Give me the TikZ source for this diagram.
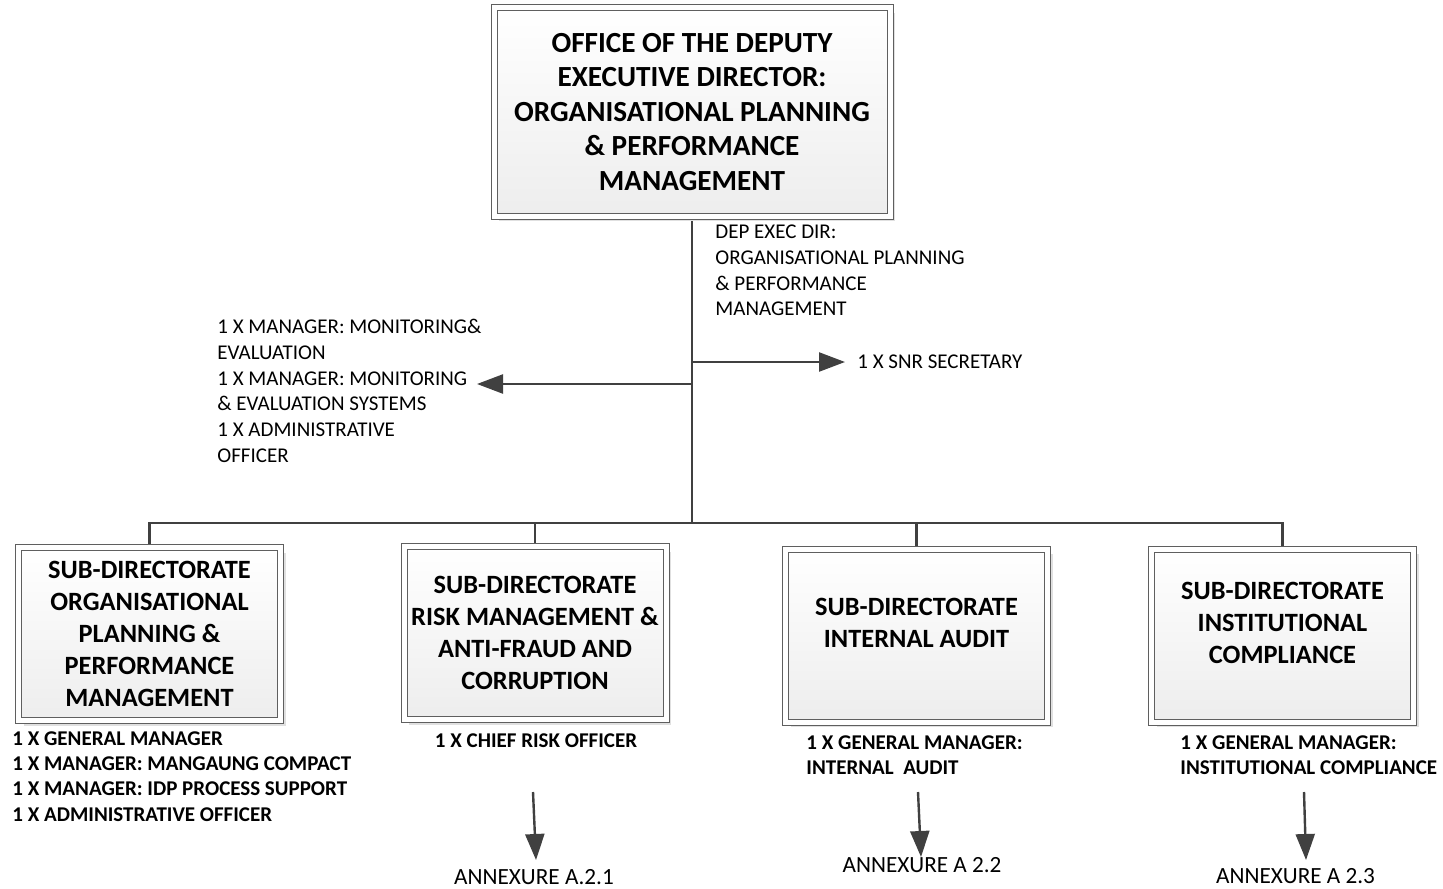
\documentclass[tikz,border=0pt]{standalone}
\usepackage{fontspec}
\setmainfont{Carlito}
\usetikzlibrary{arrows.meta,shadows,backgrounds}

\definecolor{connline}{RGB}{64,64,64}
\definecolor{boxline}{RGB}{95,95,95}

\tikzset{
  orgbox/.style={rectangle, draw=boxline, line width=0.5pt, double=white, double distance=2.5pt,
    top color=white, bottom color=black!7,
    drop shadow={shadow xshift=2.5pt, shadow yshift=-2.5pt, fill=black!12, opacity=1},
    align=center, inner sep=0pt, minimum width=131pt, minimum height=86.5pt,
    font=\fontsize{13.2}{16}\selectfont\bfseries},
  staff/.style={align=left, inner sep=0pt, font=\fontsize{10.5}{12.85}\selectfont},
  bstaff/.style={staff, font=\fontsize{10.5}{12.6}\selectfont\bfseries},
  conn/.style={draw=connline, line width=1.2pt},
  arrowconn/.style={conn, -{Triangle[length=13pt,width=9.5pt]}},
  annex/.style={inner sep=0pt, font=\fontsize{11.6}{14}\selectfont}
}

\begin{document}
\begin{tikzpicture}[x=0.5pt, y=-0.5pt]
\useasboundingbox (0,0) rectangle (1443,888);

% deputy executive director
\node[orgbox, minimum width=198pt, minimum height=104pt, font=\fontsize{14.6}{17.25}\selectfont\bfseries] (deo) at (692,112)
  {OFFICE OF THE DEPUTY\\EXECUTIVE DIRECTOR:\\ORGANISATIONAL PLANNING\\\& PERFORMANCE\\MANAGEMENT};

% sub-directorates
\node[orgbox] (opm) at (149.5,634) {SUB-DIRECTORATE\\ORGANISATIONAL\\PLANNING \&\\PERFORMANCE\\MANAGEMENT};
\node[orgbox] (rmaf) at (535,633) {SUB-DIRECTORATE\\RISK MANAGEMENT \&\\ANTI-FRAUD AND\\CORRUPTION};
\node[orgbox] (ia) at (916.5,635.5) {SUB-DIRECTORATE\\INTERNAL AUDIT\\[-3pt]~};
\node[orgbox] (ic) at (1282.5,635.5) {SUB-DIRECTORATE\\INSTITUTIONAL\\COMPLIANCE\\[-3pt]~};

% staff
\node[staff, anchor=west] (deostaff) at (715,270.5) {DEP EXEC DIR:\\ORGANISATIONAL PLANNING\\\& PERFORMANCE\\MANAGEMENT};
\node[staff, anchor=west] (mestaff) at (217,391) {1 X MANAGER: MONITORING\&\\EVALUATION\\1 X MANAGER: MONITORING\\\& EVALUATION SYSTEMS\\1 X ADMINISTRATIVE\\OFFICER};
\node[staff, anchor=west] (secstaff) at (857,362) {1 X SNR SECRETARY};
\node[bstaff, anchor=west] (opmstaff) at (12,776.5) {1 X GENERAL MANAGER\\1 X MANAGER: MANGAUNG COMPACT\\1 X MANAGER: IDP PROCESS SUPPORT\\1 X ADMINISTRATIVE OFFICER};
\node[bstaff] (rmafstaff) at (536,741) {1 X CHIEF RISK OFFICER};
\node[bstaff, anchor=west] (iastaff) at (806,755.5) {1 X GENERAL MANAGER:\\INTERNAL\ \ AUDIT};
\node[bstaff, anchor=west] (icstaff) at (1180,755.5) {1 X GENERAL MANAGER:\\INSTITUTIONAL COMPLIANCE};

% annexures
\node[annex] (annexa) at (534,877) {ANNEXURE A.2.1};
\node[annex] (annexb) at (922,865) {ANNEXURE A 2.2};
\node[annex] (annexc) at (1295.5,876) {ANNEXURE A 2.3};

\coordinate (bus) at (692,523);
\coordinate (secjoin) at (692,362);
\coordinate (mejoin) at (692,384);
\coordinate (melink) at (477,384);
\coordinate (rafrom) at (533,792);
\coordinate (rato) at (536,860);
\coordinate (iafrom) at (918,792);
\coordinate (iato) at (921,857);
\coordinate (icfrom) at (1304,792);
\coordinate (icto) at (1306,860);

% connectors
\begin{scope}[on background layer]
  \draw[conn] (deo.south) -- (bus);
  \draw[conn] (opm.north) -- (opm.north |- bus) -- (ic.north |- bus) -- (ic.north);
  \draw[conn] (rmaf.north) -- (rmaf.north |- bus);
  \draw[conn] (ia.north) -- (ia.north |- bus);
\end{scope}
\draw[arrowconn, shorten >=6pt] (secjoin) -- (secstaff.west);
\draw[arrowconn] (mejoin) -- (melink);
\draw[arrowconn] (rafrom) -- (rato);
\draw[arrowconn] (iafrom) -- (iato);
\draw[arrowconn] (icfrom) -- (icto);
\end{tikzpicture}
\end{document}
